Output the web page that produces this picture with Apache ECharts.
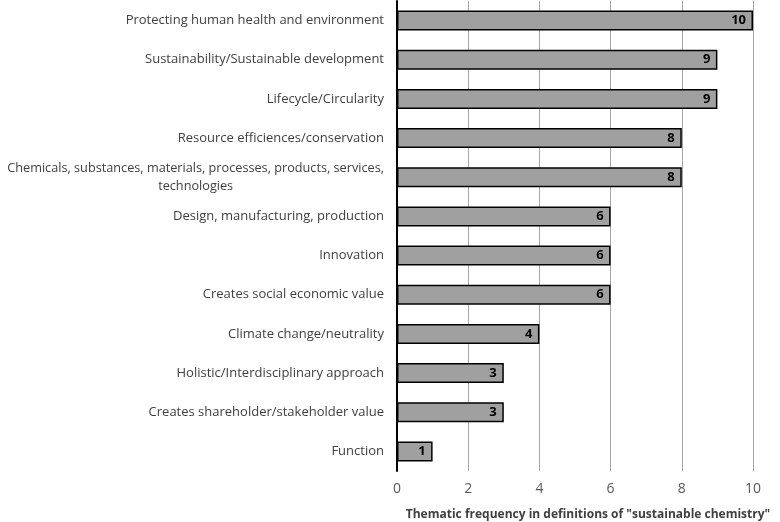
<!DOCTYPE html>
<html><head><meta charset="utf-8">
<script src="https://cdn.jsdelivr.net/npm/echarts@6/dist/echarts.min.js"></script>
<style>html,body{margin:0;padding:0;background:#fff}#c{width:780px;height:522px}</style>
</head><body><div id="c"></div>
<script>
var categories = [
  "Protecting human health and environment",
  "Sustainability/Sustainable development",
  "Lifecycle/Circularity",
  "Resource efficiences/conservation",
  "Chemicals, substances, materials, processes, products, services,\ntechnologies",
  "Design, manufacturing, production",
  "Innovation",
  "Creates social economic value",
  "Climate change/neutrality",
  "Holistic/Interdisciplinary approach",
  "Creates shareholder/stakeholder value",
  "Function"
];
var values = [10, 9, 9, 8, 8, 6, 6, 6, 4, 3, 3, 1];
var xTicks = [0, 2, 4, 6, 8, 10];
var axisTitle = 'Thematic frequency in definitions of "sustainable chemistry"';

var chart = echarts.init(document.getElementById('c'));
var FONT = '"Open Sans", sans-serif';
chart.setOption({
  animation: false,
  grid: {left: 397, right: 27, top: 1, bottom: 51, containLabel: false, outerBoundsMode: 'none'},
  xAxis: {
    type: 'value', min: xTicks[0], max: xTicks[xTicks.length - 1], interval: 2,
    axisLine: {show: false}, axisTick: {show: false},
    splitLine: {show: true, lineStyle: {color: '#a6a6a6', width: 1}},
    axisLabel: {color: '#595959', fontSize: 14, fontFamily: FONT, margin: 11},
    name: axisTitle, nameLocation: 'middle', nameGap: 38,
    nameTextStyle: {color: '#404040', fontSize: 12, fontWeight: 'bold', fontFamily: FONT, padding: [0, 0, 0, 26]}
  },
  yAxis: {
    type: 'category', data: categories, inverse: true,
    axisLine: {show: true, lineStyle: {color: '#000', width: 2}},
    axisTick: {show: false},
    axisLabel: {
      color: '#404040', fontSize: 13, fontFamily: FONT, margin: 13, lineHeight: 18,
      formatter: function (v) {
        var parts = v.split('\n');
        if (parts.length === 1) return v;
        return '{a|' + parts[0] + '}\n{b|' + parts[1] + '}';
      },
      rich: {
        a: {color: '#404040', fontSize: 12.7, fontFamily: FONT, lineHeight: 18, align: 'right'},
        b: {color: '#404040', fontSize: 12.7, fontFamily: FONT, lineHeight: 18, align: 'center'}
      }
    }
  },
  series: [{
    type: 'bar', data: values, barWidth: 20,
    itemStyle: {color: '#a0a0a0', borderColor: '#000', borderWidth: 1.5},
    label: {show: true, position: 'insideRight', distance: 7, color: '#000', fontWeight: 'bold', fontSize: 13, fontFamily: FONT}
  }]
});
</script></body></html>
